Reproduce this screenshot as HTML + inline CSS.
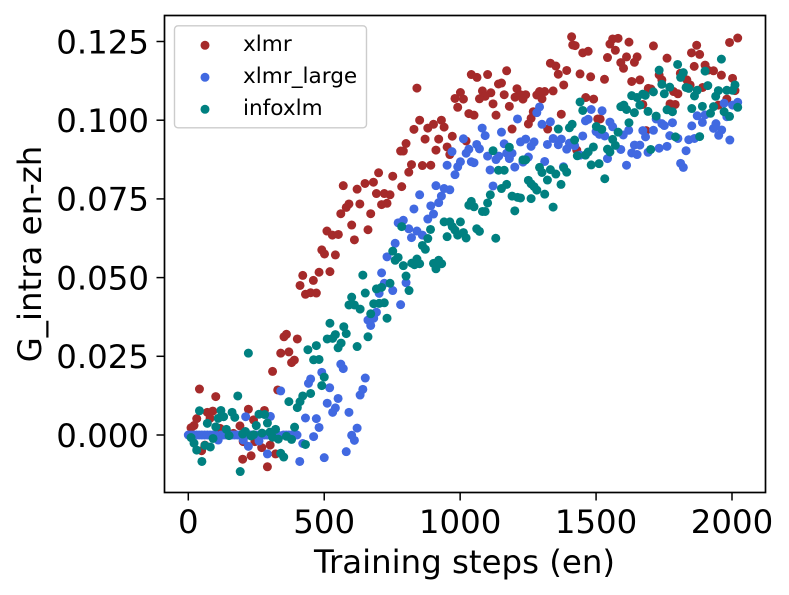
<!DOCTYPE html>
<html>
<head>
<meta charset="utf-8">
<title>G_intra en-zh</title>
<style>
html,body{margin:0;padding:0;background:#fff;width:789px;height:595px;overflow:hidden}
svg{display:block}
text{font-family:"DejaVu Sans",sans-serif;fill:#000}
</style>
</head>
<body>
<svg id="chart" width="789" height="595" viewBox="0 0 789 595" xmlns="http://www.w3.org/2000/svg">
  <rect x="0" y="0" width="789" height="595" fill="#fff"/>
  <g id="marks"></g>
  <rect x="164.5" y="15.5" width="601" height="477" fill="none" stroke="#000" stroke-width="1.7"/>
  <g id="ticks"></g>
  <text x="464.5" y="573" font-size="32.4" text-anchor="middle">Training steps (en)</text>
  <text transform="translate(41,254) rotate(-90)" font-size="32.4" text-anchor="middle">G_intra en-zh</text>
  <g>
    <rect x="174.5" y="25.8" width="192" height="102" rx="3.5" ry="3.5" fill="#fff" fill-opacity="0.8" stroke="#ccc" stroke-width="1.4"/>
    <circle cx="205" cy="45.3" r="4.5" fill="#a52a2a"/>
    <text x="243" y="51" font-size="21.6">xlmr</text>
    <circle cx="205" cy="77.3" r="4.5" fill="#4169e1"/>
    <text x="243" y="83" font-size="21.6">xlmr_large</text>
    <circle cx="205" cy="109.3" r="4.5" fill="#008080"/>
    <text x="243" y="115" font-size="21.6">infoxlm</text>
  </g>
</svg>
<script>
const xTickLabels=["0","500","1000","1500","2000"];
const xTickValues=[0,500,1000,1500,2000];
const yTickLabels=["0.000","0.025","0.050","0.075","0.100","0.125"];
const yTickValues=[0,0.025,0.05,0.075,0.1,0.125];

const xlmrSteps=[41,101,70,90,31,80,21,10,221,280,240,190,329,401,352,361,340,370,390,380,310,270,301,321,231,200,291,49,61,202,245,117,166,
700,752,570,621,650,681,692,721,742,711,731,591,581,631,561,671,601,661,510,530,552,611,491,501,541,521,481,421,460,411,431,450,471,
841,1041,1062,1101,1171,1141,1152,1209,1082,1113,1092,1071,1001,981,1012,991,1121,1162,1202,1222,1241,1231,1181,1282,1292,1311,1301,1342,1381,1332,1352,1361,1392,1032,1051,1132,851,931,902,881,830,941,971,871,921,801,791,781,911,952,962,1022,821,861,892,811,785,1191,1251,1261,1269,1322,1372,
1410,1414,1423,1451,1471,1561,1581,1551,1571,1621,1711,1542,1612,1651,1641,1591,1601,1441,1480,1531,1761,1870,1851,1881,1861,1901,1911,1932,1961,2002,1991,2021,1631,1661,1810,1732,1742,1834,1846,1692,1702,1785,1801,1892,2011,1462,1491,1506,1515,1672,1772,1791,1981,1950,1684,1429];
const xlmrValues=[0.0146,0.0122,0.0072,0.0076,0.0052,0.0053,0.0030,0.0023,0.0082,0.0078,0.0048,0.0029,0.0143,0.0305,0.0312,0.0320,0.0260,0.0264,0.0238,0.0230,0.0202,-0.0040,-0.0032,-0.0060,-0.0066,-0.0077,-0.0101,-0.0050,-0.0032,-0.0021,-0.0021,0.0021,0.0005,
0.0833,0.0822,0.0792,0.0781,0.0799,0.0803,0.0767,0.0767,0.0763,0.0732,0.0736,0.0734,0.0723,0.0734,0.0703,0.0703,0.0667,0.0652,0.0648,0.0635,0.0637,0.0620,0.0588,0.0575,0.0572,0.0519,0.0517,0.0507,0.0491,0.0475,0.0447,0.0452,0.0451,
0.1102,0.1145,0.1136,0.1145,0.1157,0.1115,0.1118,0.1100,0.1093,0.1087,0.1076,0.1068,0.1088,0.1069,0.1067,0.1041,0.1052,0.1081,0.1073,0.1081,0.1081,0.1067,0.1044,0.1080,0.1091,0.1091,0.1068,0.1093,0.1112,0.1181,0.1172,0.1146,0.1158,0.1021,0.1016,0.1016,0.1000,0.1000,0.0987,0.0975,0.0971,0.0978,0.0949,0.0940,0.0940,0.0926,0.0902,0.0902,0.0905,0.0915,0.0891,0.0934,0.0859,0.0856,0.0857,0.0835,0.0789,0.0972,0.0988,0.1006,0.1027,0.0972,0.1019,
0.1265,0.1239,0.1237,0.1214,0.1219,0.1258,0.1260,0.1242,0.1222,0.1248,0.1236,0.1199,0.1201,0.1201,0.1184,0.1183,0.1165,0.1147,0.1138,0.1130,0.1197,0.1238,0.1214,0.1209,0.1171,0.1175,0.1159,0.1157,0.1143,0.1133,0.1247,0.1261,0.1123,0.1128,0.1149,0.1144,0.1128,0.1128,0.1112,0.1101,0.1099,0.1091,0.1084,0.1104,0.1094,0.1072,0.1067,0.1004,0.1004,0.1050,0.1052,0.1050,0.1067,0.1048,0.0967,0.0905];

const xlmrLargeSteps=[0,10,20,30,40,50,60,70,80,90,100,120,130,140,150,160,170,180,190,210,220,230,240,250,270,280,290,310,320,330,350,360,370,380,390,400,
211,302,340,221,260,291,202,110,421,431,471,481,461,410,500,581,611,601,621,591,531,541,511,551,632,642,651,520,491,561,570,450,442,
772,761,731,711,721,801,752,702,781,692,682,661,671,
1081,1092,1211,1152,1012,1032,1022,970,1061,1071,1101,1162,1142,1132,1171,1191,1181,1241,1222,1272,1261,1251,1231,1201,1110,952,1001,991,981,1041,1051,911,941,962,931,921,851,830,892,902,881,791,811,841,861,821,1311,1292,1282,1301,1332,1321,1342,1361,1372,1392,1402,1380,1121,1421,
1482,1522,1471,1461,1551,1561,1620,1600,1672,1682,1711,1451,1512,1532,1591,1641,1661,1631,1651,1691,1732,1761,1771,1801,1841,1862,1831,1542,1612,1811,1821,1721,1742,1751,1781,1852,1891,1872,1901,1932,1941,1962,1951,1992,1971,2002,2021,1981,1441,1500];
const xlmrLargeValues=[0,0,0,0,0,0,0,0,0,0,0,0,0,0,0,0,0,0,0,0,0,0,0,0,0,0,0,0,0,0,0,0,0,0,0,0,
0.0058,0.0059,0.0140,-0.0036,-0.0019,-0.0060,-0.0016,-0.0016,-0.0027,0.0054,0.0052,0.0024,-0.0005,-0.0084,-0.0072,-0.0053,-0.0017,-0.0001,0.0022,0.0072,0.0072,0.0086,0.0101,0.0116,0.0127,0.0145,0.0181,0.0150,0.0199,0.0225,0.0211,0.0178,0.0164,
0.0674,0.0609,0.0566,0.0515,0.0482,0.0484,0.0459,0.0450,0.0414,0.0390,0.0371,0.0365,0.0348,
0.0975,0.0951,0.1004,0.0962,0.0941,0.0908,0.0895,0.0900,0.0923,0.0909,0.0886,0.0925,0.0886,0.0875,0.0895,0.0895,0.0878,0.0940,0.0931,0.0931,0.0917,0.0883,0.0867,0.0851,0.0842,0.0857,0.0868,0.0852,0.0827,0.0868,0.0865,0.0792,0.0783,0.0779,0.0759,0.0738,0.0763,0.0718,0.0728,0.0702,0.0686,0.0682,0.0655,0.0648,0.0635,0.0627,0.0869,0.1042,0.1024,0.0987,0.0995,0.0923,0.0942,0.0922,0.0940,0.0908,0.0927,0.0852,0.0791,0.0919,
0.1034,0.1030,0.1003,0.0998,0.0994,0.0979,0.0968,0.0953,0.0967,0.0947,0.0968,0.0950,0.0955,0.0950,0.0907,0.0921,0.0921,0.0896,0.0891,0.0898,0.0911,0.0917,0.0951,0.0942,0.0938,0.0942,0.0903,0.0878,0.0857,0.0863,0.0850,0.1004,0.0989,0.0983,0.0992,0.0982,0.0993,0.1014,0.1017,0.0974,0.0989,0.0969,0.0952,0.0937,0.1054,0.1048,0.1057,0.1011,0.0889,0.0964];

const infoxlmSteps=[221,182,41,120,161,171,130,110,70,101,140,150,200,210,250,260,281,291,271,231,240,300,321,310,331,361,380,391,91,10,21,31,61,81,50,191,340,351,431,370,401,411,421,450,491,500,440,461,481,471,511,531,541,581,562,551,621,661,
861,872,752,772,761,791,822,832,841,851,902,921,932,911,801,812,742,711,692,642,651,601,591,611,632,682,702,721,671,731,521,572,
1121,1181,1231,1241,1141,1162,1292,1301,1332,1352,1381,1392,1321,1251,1371,1261,1272,1282,1311,1171,1152,1111,1101,1191,1211,1222,1261,1041,1032,1051,1082,1092,1201,1342,1361,1402,1412,1001,941,962,971,981,991,1012,1022,1061,1071,1131,952,891,881,785,1421,
1961,1800,1732,1901,1821,1811,1742,1771,1711,1751,1831,1841,1872,1862,1911,1950,1940,1981,2002,2011,1631,1651,1672,1681,1661,1591,1602,1612,1641,1691,1721,1761,1781,1852,1891,1932,1921,1971,1991,2021,1441,1451,1621,1501,1521,1581,1561,1571,1542,1551,1490,1471,1461,1431,1701,1792,1881,1482,1511,1532];
const infoxlmValues=[0.0260,0.0124,0.0077,0.0078,0.0072,0.0056,0.0058,0.0053,0.0037,0.0026,0.0018,-0.0002,0.0003,0.0011,0.0030,0.0066,0.0065,0.0038,0.0006,-0.0003,0.0001,0.0009,0.0018,-0.0007,-0.0013,-0.0004,-0.0014,0.0025,-0.0011,-0.0008,-0.0026,-0.0048,-0.0033,-0.0038,-0.0084,-0.0116,-0.0058,-0.0070,-0.0030,0.0106,0.0087,0.0106,0.0124,0.0132,0.0157,0.0184,0.0271,0.0239,0.0240,0.0284,0.0305,0.0307,0.0319,0.0322,0.0292,0.0277,0.0281,0.0312,
0.0602,0.0590,0.0584,0.0564,0.0555,0.0538,0.0546,0.0541,0.0559,0.0544,0.0545,0.0555,0.0544,0.0528,0.0505,0.0459,0.0482,0.0469,0.0464,0.0508,0.0451,0.0438,0.0413,0.0413,0.0400,0.0417,0.0418,0.0420,0.0385,0.0371,0.0355,0.0344,
0.0903,0.0914,0.0874,0.0874,0.0841,0.0841,0.0850,0.0834,0.0843,0.0829,0.0849,0.0835,0.0810,0.0809,0.0796,0.0798,0.0789,0.0778,0.0765,0.0796,0.0783,0.0763,0.0737,0.0759,0.0755,0.0753,0.0751,0.0742,0.0730,0.0725,0.0710,0.0710,0.0712,0.0724,0.0972,0.0976,0.0987,0.0677,0.0677,0.0677,0.0662,0.0651,0.0635,0.0643,0.0626,0.0655,0.0647,0.0625,0.0630,0.0653,0.0624,0.0662,0.0937,
0.1194,0.1177,0.1159,0.1156,0.1151,0.1136,0.1114,0.1105,0.1090,0.1084,0.1104,0.1101,0.1095,0.1077,0.1110,0.1094,0.1076,0.1095,0.1095,0.1112,0.1078,0.1072,0.1083,0.1079,0.1048,0.1043,0.1048,0.1034,0.1024,0.1028,0.1013,0.1033,0.1027,0.1037,0.1044,0.1043,0.1022,0.1027,0.1012,0.1041,0.1058,0.1031,0.0992,0.0980,0.0971,0.0962,0.0939,0.0920,0.0908,0.0899,0.0915,0.0899,0.0889,0.0887,0.0907,0.0947,0.0948,0.0858,0.0862,0.0814];

const NS='http://www.w3.org/2000/svg';
function xScale(v){return 188.3+v*0.27185;}
function yScale(v){return 435-v*3148;}

const marks=document.getElementById('marks');
const ticks=document.getElementById('ticks');

function drawSeries(steps,values,color,label){
  const n=Math.min(steps.length,values.length);
  const group=document.createElementNS(NS,'g');
  
  
  for(let i=0;i<n;i++){
    const c=document.createElementNS(NS,'circle');
    c.setAttribute('cx',xScale(steps[i]).toFixed(2));
    c.setAttribute('cy',yScale(values[i]).toFixed(2));
    c.setAttribute('r','4.5');
    c.setAttribute('fill',color);
    
    
    group.appendChild(c);
  }
  marks.appendChild(group);
}

drawSeries(xlmrSteps,xlmrValues,'#a52a2a','xlmr');
drawSeries(xlmrLargeSteps,xlmrLargeValues,'#4169e1','xlmr-large');
drawSeries(infoxlmSteps,infoxlmValues,'#008080','infoxlm');

xTickValues.forEach(function(v,i){
  const px=xScale(v);
  const t=document.createElementNS(NS,'line');
  t.setAttribute('x1',px);
  t.setAttribute('x2',px);
  t.setAttribute('y1','493');
  t.setAttribute('y2','500.5');
  t.setAttribute('stroke','#000');
  t.setAttribute('stroke-width','1.5');
  
  
  ticks.appendChild(t);
  const l=document.createElementNS(NS,'text');
  l.setAttribute('x',px);
  l.setAttribute('y','533');
  l.setAttribute('font-size','32.4');
  l.setAttribute('text-anchor','middle');
  
  
  l.textContent=xTickLabels[i];
  ticks.appendChild(l);
});

yTickValues.forEach(function(v,i){
  const py=yScale(v);
  const t=document.createElementNS(NS,'line');
  t.setAttribute('x1','156.5');
  t.setAttribute('x2','164');
  t.setAttribute('y1',py);
  t.setAttribute('y2',py);
  t.setAttribute('stroke','#000');
  t.setAttribute('stroke-width','1.5');
  
  
  ticks.appendChild(t);
  const l=document.createElementNS(NS,'text');
  l.setAttribute('x','149');
  l.setAttribute('y',py+11.8);
  l.setAttribute('font-size','32.4');
  l.setAttribute('text-anchor','end');
  
  
  l.textContent=yTickLabels[i];
  ticks.appendChild(l);
});
</script>
</body>
</html>
